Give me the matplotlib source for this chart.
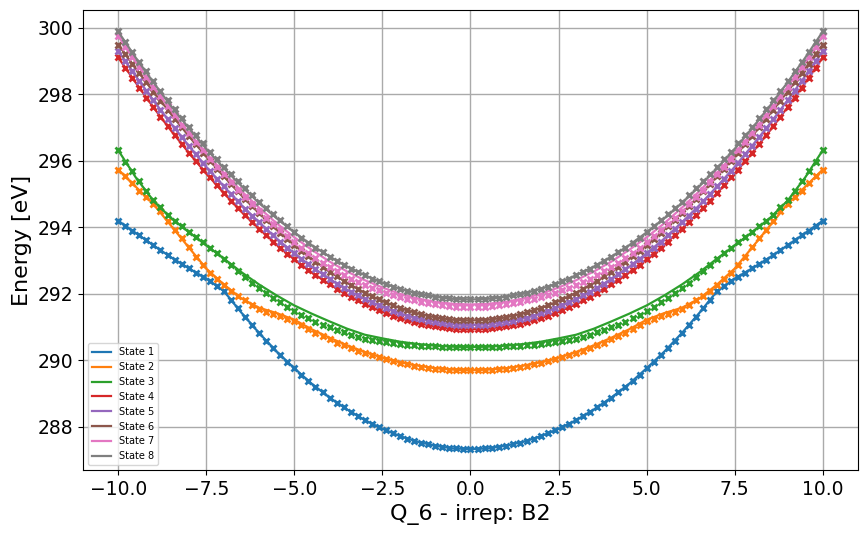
import matplotlib
matplotlib.use("Agg")
import matplotlib.pyplot as plt

# scan grid (markers) and fit grid (lines)
q_scan = [-10.0, -9.8, -9.6, -9.4, -9.2, -9.0, -8.8, -8.6, -8.4, -8.2, -8.0, -7.8, -7.6, -7.4, -7.2, -7.0, -6.8,
          -6.6, -6.4, -6.2, -6.0, -5.8, -5.6, -5.4, -5.2, -5.0, -4.8, -4.6, -4.4, -4.2, -4.0, -3.8, -3.6, -3.4,
          -3.2, -3.0, -2.8, -2.6, -2.4, -2.2, -2.0, -1.8, -1.6, -1.4, -1.2, -1.0, -0.8, -0.6, -0.4, -0.2, 0.0,
          0.2, 0.4, 0.6, 0.8, 1.0, 1.2, 1.4, 1.6, 1.8, 2.0, 2.2, 2.4, 2.6, 2.8, 3.0, 3.2, 3.4, 3.6, 3.8, 4.0,
          4.2, 4.4, 4.6, 4.8, 5.0, 5.2, 5.4, 5.6, 5.8, 6.0, 6.2, 6.4, 6.6, 6.8, 7.0, 7.2, 7.4, 7.6, 7.8, 8.0,
          8.2, 8.4, 8.6, 8.8, 9.0, 9.2, 9.4, 9.6, 9.8, 10.0]
q_fit = [-10.0, -9.5, -9.0, -8.5, -8.0, -7.5, -7.0, -6.5, -6.0, -5.5, -5.0, -4.5, -4.0, -3.5, -3.0, -2.5, -2.0,
         -1.5, -1.0, -0.5, 0.0, 0.5, 1.0, 1.5, 2.0, 2.5, 3.0, 3.5, 4.0, 4.5, 5.0, 5.5, 6.0, 6.5, 7.0, 7.5, 8.0,
         8.5, 9.0, 9.5, 10.0]

state1_scan = [294.20, 294.05, 293.90, 293.76, 293.61, 293.46, 293.31, 293.17, 293.03, 292.90, 292.77, 292.64, 292.52, 292.40, 292.25, 292.08, 291.82, 291.56, 291.30, 291.06, 290.82, 290.59, 290.37, 290.16, 289.95, 289.76, 289.57, 289.38, 289.21, 289.04, 288.88, 288.73, 288.59, 288.45, 288.32, 288.20, 288.09, 287.99, 287.89, 287.80, 287.72, 287.64, 287.58, 287.52, 287.47, 287.43, 287.39, 287.37, 287.35, 287.33, 287.33,
               287.33, 287.35, 287.37, 287.39, 287.43, 287.47, 287.52, 287.58, 287.64, 287.72, 287.80, 287.89, 287.99, 288.09, 288.20, 288.32, 288.45, 288.59, 288.73, 288.88, 289.04, 289.21, 289.38, 289.57, 289.76, 289.95, 290.16, 290.37, 290.59, 290.82, 291.06, 291.30, 291.56, 291.82, 292.08, 292.25, 292.40, 292.52, 292.64, 292.77, 292.90, 293.03, 293.17, 293.31, 293.46, 293.61, 293.76, 293.90, 294.05, 294.20]
state2_scan = [295.74, 295.53, 295.32, 295.10, 294.90, 294.70, 294.50, 294.20, 293.93, 293.68, 293.40, 293.12, 292.88, 292.64, 292.45, 292.27, 292.10, 291.93, 291.80, 291.66, 291.54, 291.44, 291.38, 291.32, 291.25, 291.18, 291.06, 290.94, 290.83, 290.73, 290.63, 290.53, 290.45, 290.37, 290.29, 290.22, 290.15, 290.09, 290.03, 289.97, 289.92, 289.88, 289.84, 289.81, 289.78, 289.75, 289.73, 289.72, 289.71, 289.70, 289.70,
               289.70, 289.71, 289.72, 289.73, 289.75, 289.78, 289.81, 289.84, 289.88, 289.92, 289.97, 290.03, 290.09, 290.15, 290.22, 290.29, 290.37, 290.45, 290.53, 290.63, 290.73, 290.83, 290.94, 291.06, 291.18, 291.25, 291.32, 291.38, 291.44, 291.54, 291.66, 291.80, 291.93, 292.10, 292.27, 292.45, 292.64, 292.88, 293.12, 293.40, 293.68, 293.93, 294.20, 294.50, 294.70, 294.90, 295.10, 295.32, 295.53, 295.74]
state3_scan = [296.32, 295.97, 295.70, 295.40, 295.10, 294.82, 294.60, 294.38, 294.20, 294.03, 293.87, 293.71, 293.55, 293.38, 293.22, 293.04, 292.87, 292.68, 292.51, 292.33, 292.17, 292.02, 291.87, 291.74, 291.61, 291.48, 291.37, 291.26, 291.16, 291.07, 290.99, 290.92, 290.84, 290.76, 290.70, 290.65, 290.61, 290.57, 290.54, 290.51, 290.49, 290.47, 290.46, 290.44, 290.43, 290.42, 290.41, 290.40, 290.39, 290.39, 290.39,
               290.39, 290.39, 290.40, 290.41, 290.42, 290.43, 290.44, 290.46, 290.47, 290.49, 290.51, 290.54, 290.57, 290.61, 290.65, 290.70, 290.76, 290.84, 290.92, 290.99, 291.07, 291.16, 291.26, 291.37, 291.48, 291.61, 291.74, 291.87, 292.02, 292.17, 292.33, 292.51, 292.68, 292.87, 293.04, 293.22, 293.38, 293.55, 293.71, 293.87, 294.03, 294.20, 294.38, 294.60, 294.82, 295.10, 295.40, 295.70, 295.97, 296.32]
state4_scan = [299.11, 298.80, 298.50, 298.20, 297.90, 297.61, 297.33, 297.05, 296.78, 296.51, 296.25, 295.99, 295.74, 295.50, 295.26, 295.03, 294.80, 294.58, 294.37, 294.16, 293.96, 293.76, 293.57, 293.39, 293.21, 293.04, 292.88, 292.72, 292.57, 292.42, 292.29, 292.15, 292.03, 291.91, 291.80, 291.70, 291.60, 291.51, 291.42, 291.34, 291.27, 291.21, 291.15, 291.10, 291.05, 291.02, 290.99, 290.96, 290.94, 290.93, 290.93,
               290.93, 290.94, 290.96, 290.99, 291.02, 291.05, 291.10, 291.15, 291.21, 291.27, 291.34, 291.42, 291.51, 291.60, 291.70, 291.80, 291.91, 292.03, 292.15, 292.29, 292.42, 292.57, 292.72, 292.88, 293.04, 293.21, 293.39, 293.57, 293.76, 293.96, 294.16, 294.37, 294.58, 294.80, 295.03, 295.26, 295.50, 295.74, 295.99, 296.25, 296.51, 296.78, 297.05, 297.33, 297.61, 297.90, 298.20, 298.50, 298.80, 299.11]
state5_scan = [299.31, 299.01, 298.70, 298.40, 298.11, 297.82, 297.54, 297.26, 296.99, 296.72, 296.46, 296.20, 295.95, 295.70, 295.46, 295.23, 295.00, 294.78, 294.56, 294.35, 294.15, 293.95, 293.76, 293.57, 293.39, 293.22, 293.05, 292.89, 292.74, 292.59, 292.45, 292.31, 292.19, 292.07, 291.95, 291.84, 291.74, 291.65, 291.56, 291.48, 291.41, 291.34, 291.28, 291.23, 291.19, 291.15, 291.12, 291.09, 291.07, 291.06, 291.06,
               291.06, 291.07, 291.09, 291.12, 291.15, 291.19, 291.23, 291.28, 291.34, 291.41, 291.48, 291.56, 291.65, 291.74, 291.84, 291.95, 292.07, 292.19, 292.31, 292.45, 292.59, 292.74, 292.89, 293.05, 293.22, 293.39, 293.57, 293.76, 293.95, 294.15, 294.35, 294.56, 294.78, 295.00, 295.23, 295.46, 295.70, 295.95, 296.20, 296.46, 296.72, 296.99, 297.26, 297.54, 297.82, 298.11, 298.40, 298.70, 299.01, 299.31]
state6_scan = [299.50, 299.21, 298.92, 298.64, 298.36, 298.08, 297.81, 297.54, 297.27, 297.01, 296.75, 296.50, 296.25, 296.01, 295.77, 295.53, 295.30, 295.08, 294.86, 294.64, 294.43, 294.23, 294.03, 293.84, 293.65, 293.47, 293.30, 293.13, 292.97, 292.82, 292.67, 292.53, 292.40, 292.27, 292.15, 292.03, 291.93, 291.83, 291.74, 291.65, 291.57, 291.50, 291.44, 291.38, 291.33, 291.29, 291.26, 291.23, 291.22, 291.20, 291.20,
               291.20, 291.22, 291.23, 291.26, 291.29, 291.33, 291.38, 291.44, 291.50, 291.57, 291.65, 291.74, 291.83, 291.93, 292.03, 292.15, 292.27, 292.40, 292.53, 292.67, 292.82, 292.97, 293.13, 293.30, 293.47, 293.65, 293.84, 294.03, 294.23, 294.43, 294.64, 294.86, 295.08, 295.30, 295.53, 295.77, 296.01, 296.25, 296.50, 296.75, 297.01, 297.27, 297.54, 297.81, 298.08, 298.36, 298.64, 298.92, 299.21, 299.50]
state7_scan = [299.76, 299.44, 299.13, 298.82, 298.52, 298.23, 297.94, 297.66, 297.37, 297.09, 296.83, 296.57, 296.32, 296.06, 295.83, 295.59, 295.36, 295.13, 294.91, 294.70, 294.49, 294.29, 294.09, 293.91, 293.73, 293.55, 293.38, 293.23, 293.07, 292.94, 292.80, 292.69, 292.57, 292.46, 292.36, 292.27, 292.18, 292.11, 292.04, 291.97, 291.90, 291.85, 291.80, 291.76, 291.72, 291.68, 291.65, 291.63, 291.61, 291.60, 291.60,
               291.60, 291.61, 291.63, 291.65, 291.68, 291.72, 291.76, 291.80, 291.85, 291.90, 291.97, 292.04, 292.11, 292.18, 292.27, 292.36, 292.46, 292.57, 292.69, 292.80, 292.94, 293.07, 293.23, 293.38, 293.55, 293.73, 293.91, 294.09, 294.29, 294.49, 294.70, 294.91, 295.13, 295.36, 295.59, 295.83, 296.06, 296.32, 296.57, 296.83, 297.09, 297.37, 297.66, 297.94, 298.23, 298.52, 298.82, 299.13, 299.44, 299.76]
state8_scan = [299.91, 299.58, 299.28, 298.98, 298.69, 298.40, 298.11, 297.83, 297.56, 297.29, 297.03, 296.77, 296.53, 296.28, 296.05, 295.82, 295.60, 295.38, 295.17, 294.97, 294.76, 294.57, 294.39, 294.21, 294.03, 293.86, 293.69, 293.54, 293.39, 293.25, 293.12, 292.99, 292.88, 292.76, 292.66, 292.56, 292.46, 292.38, 292.29, 292.22, 292.15, 292.09, 292.04, 291.99, 291.95, 291.91, 291.88, 291.86, 291.84, 291.83, 291.83,
               291.83, 291.84, 291.86, 291.88, 291.91, 291.95, 291.99, 292.04, 292.09, 292.15, 292.22, 292.29, 292.38, 292.46, 292.56, 292.66, 292.76, 292.88, 292.99, 293.12, 293.25, 293.39, 293.54, 293.69, 293.86, 294.03, 294.21, 294.39, 294.57, 294.76, 294.97, 295.17, 295.38, 295.60, 295.82, 296.05, 296.28, 296.53, 296.77, 297.03, 297.29, 297.56, 297.83, 298.11, 298.40, 298.69, 298.98, 299.28, 299.58, 299.91]

state1_fit = [294.20, 293.83, 293.46, 293.10, 292.77, 292.46, 292.08, 291.43, 290.82, 290.26, 289.76, 289.29, 288.88, 288.52, 288.20, 287.94, 287.72, 287.55, 287.43, 287.35, 287.33,
              287.35, 287.43, 287.55, 287.72, 287.94, 288.20, 288.52, 288.88, 289.29, 289.76, 290.26, 290.82, 291.43, 292.08, 292.46, 292.77, 293.10, 293.46, 293.83, 294.20]
state2_fit = [295.74, 295.22, 294.70, 294.05, 293.40, 292.76, 292.28, 291.86, 291.58, 291.42, 291.22, 290.93, 290.68, 290.45, 290.25, 290.08, 289.94, 289.84, 289.76, 289.72, 289.70,
              289.72, 289.76, 289.84, 289.94, 290.08, 290.25, 290.45, 290.68, 290.93, 291.22, 291.42, 291.58, 291.86, 292.28, 292.76, 293.40, 294.05, 294.70, 295.22, 295.74]
state3_fit = [296.32, 295.50, 294.80, 294.28, 293.86, 293.46, 293.06, 292.65, 292.28, 291.95, 291.65, 291.40, 291.17, 290.95, 290.77, 290.66, 290.56, 290.49, 290.44, 290.41, 290.40,
              290.41, 290.44, 290.49, 290.56, 290.66, 290.77, 290.95, 291.17, 291.40, 291.65, 291.95, 292.28, 292.65, 293.06, 293.46, 293.86, 294.28, 294.80, 295.50, 296.32]
state4_fit = [299.11, 298.35, 297.61, 296.91, 296.25, 295.62, 295.03, 294.47, 293.96, 293.48, 293.04, 292.64, 292.29, 291.97, 291.69, 291.46, 291.27, 291.12, 291.02, 290.95, 290.93,
              290.95, 291.02, 291.12, 291.27, 291.46, 291.69, 291.97, 292.29, 292.64, 293.04, 293.48, 293.96, 294.47, 295.03, 295.62, 296.25, 296.91, 297.61, 298.35, 299.11]
state5_fit = [299.31, 298.55, 297.82, 297.12, 296.46, 295.82, 295.23, 294.67, 294.15, 293.66, 293.22, 292.81, 292.45, 292.12, 291.84, 291.61, 291.41, 291.26, 291.15, 291.08, 291.06,
              291.08, 291.15, 291.26, 291.41, 291.61, 291.84, 292.12, 292.45, 292.81, 293.22, 293.66, 294.15, 294.67, 295.23, 295.82, 296.46, 297.12, 297.82, 298.55, 299.31]
state6_fit = [299.50, 298.78, 298.08, 297.41, 296.75, 296.13, 295.53, 294.96, 294.43, 293.93, 293.47, 293.05, 292.67, 292.33, 292.03, 291.78, 291.57, 291.41, 291.29, 291.22, 291.20,
              291.22, 291.29, 291.41, 291.57, 291.78, 292.03, 292.33, 292.67, 293.05, 293.47, 293.93, 294.43, 294.96, 295.53, 296.13, 296.75, 297.41, 298.08, 298.78, 299.50]
state7_fit = [299.76, 298.97, 298.22, 297.52, 296.85, 296.23, 295.64, 295.09, 294.59, 294.12, 293.70, 293.32, 292.97, 292.67, 292.41, 292.19, 292.00, 291.86, 291.76, 291.70, 291.68,
              291.70, 291.76, 291.86, 292.00, 292.19, 292.41, 292.67, 292.97, 293.32, 293.70, 294.12, 294.59, 295.09, 295.64, 296.23, 296.85, 297.52, 298.22, 298.97, 299.76]
state8_fit = [299.89, 299.10, 298.36, 297.65, 296.99, 296.36, 295.78, 295.24, 294.73, 294.27, 293.85, 293.46, 293.12, 292.82, 292.56, 292.33, 292.15, 292.01, 291.91, 291.85, 291.83,
              291.85, 291.91, 292.01, 292.15, 292.33, 292.56, 292.82, 293.12, 293.46, 293.85, 294.27, 294.73, 295.24, 295.78, 296.36, 296.99, 297.65, 298.36, 299.10, 299.89]

labels = ["State 1", "State 2", "State 3", "State 4", "State 5", "State 6", "State 7", "State 8"]
scans = [state1_scan, state2_scan, state3_scan, state4_scan, state5_scan, state6_scan, state7_scan, state8_scan]
fits = [state1_fit, state2_fit, state3_fit, state4_fit, state5_fit, state6_fit, state7_fit, state8_fit]

fig = plt.figure(figsize=(8.67, 5.37), dpi=100)
ax = fig.add_axes([0.0957, 0.1248, 0.8939, 0.8566])

for i in range(len(labels)):
    color = f"C{i}"
    ax.plot(q_fit, fits[i], '-', color=color, lw=1.6, label=labels[i])
    ax.plot(q_scan, scans[i], 'x', color=color, ms=4, mew=2)

ax.set_xlabel("Q_6 - irrep: B2", fontsize=16)
ax.set_ylabel("Energy [eV]", fontsize=16)
ax.tick_params(labelsize=13.5)
ax.grid(True, color='#aaaaaa', lw=1)
ax.legend(loc='lower left', fontsize=7)

fig.savefig("out.png", dpi=100)
